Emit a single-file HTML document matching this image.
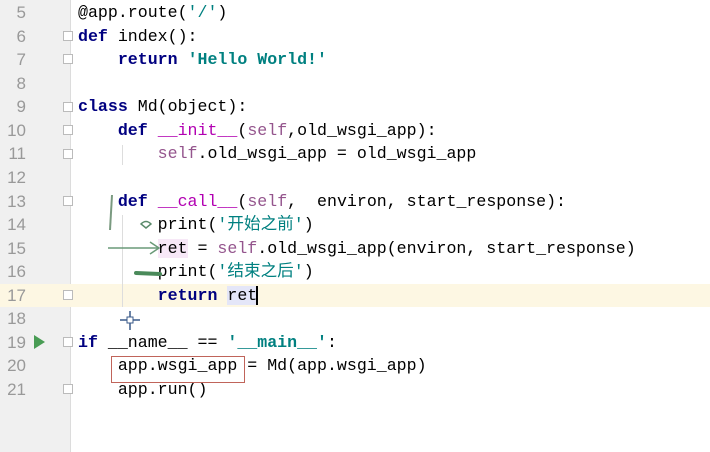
<!DOCTYPE html>
<html><head><meta charset="utf-8"><style>
html,body{margin:0;padding:0}
body{width:710px;height:452px;overflow:hidden;background:#fff;position:relative;font-family:"Liberation Mono","Noto Sans CJK SC",monospace;font-size:16.6px}
.gut{position:absolute;left:0;top:0;width:70px;height:452px;background:#f0f0f0;border-right:1px solid #dcdcdc}
.hl{position:absolute;left:0;top:284px;width:710px;height:23px;background:#fdf7e3}
.n{position:absolute;left:0;width:26px;text-align:right;color:#999;font-family:"Liberation Sans",sans-serif;font-size:17px;line-height:23.56px}
.l{position:absolute;left:78px;white-space:pre;line-height:23.56px;color:#000}
.k{color:#000080;font-weight:bold}
.s{color:#008080;font-weight:bold}
.c{color:#008080}
.sf{color:#94558d}
.m{color:#b200b2}
.fold{position:absolute;left:63px;width:10px;height:10px;border:1px solid #bbb;background:#fff;box-sizing:border-box}
</style></head><body>
<div class="gut"></div>
<div class="hl"></div>
<div class="n" style="top:1px">5</div>
<div class="n" style="top:24.6px">6</div>
<div class="n" style="top:48.1px">7</div>
<div class="n" style="top:71.7px">8</div>
<div class="n" style="top:95.2px">9</div>
<div class="n" style="top:118.8px">10</div>
<div class="n" style="top:142.4px">11</div>
<div class="n" style="top:165.9px">12</div>
<div class="n" style="top:189.5px">13</div>
<div class="n" style="top:213px">14</div>
<div class="n" style="top:236.6px">15</div>
<div class="n" style="top:260.2px">16</div>
<div class="n" style="top:283.7px">17</div>
<div class="n" style="top:307.3px">18</div>
<div class="n" style="top:330.8px">19</div>
<div class="n" style="top:354.4px">20</div>
<div class="n" style="top:378px">21</div>
<div class="fold" style="top:31px"></div><div class="fold" style="top:54px"></div>
<div class="fold" style="top:102px"></div><div class="fold" style="top:125px"></div><div class="fold" style="top:149px"></div>
<div class="fold" style="top:196px"></div><div class="fold" style="top:290px"></div>
<div class="fold" style="top:337px"></div><div class="fold" style="top:384px"></div>
<svg style="position:absolute;left:34px;top:335px" width="12" height="14"><polygon points="0,0 11,7 0,14" fill="#499c54"/></svg>
<div style="position:absolute;left:122px;top:145px;width:1px;height:20px;background:#ddd"></div>
<div style="position:absolute;left:122px;top:215px;width:1px;height:92px;background:#ddd"></div>
<div class="l" style="top:1px">@app.route(<span class="c">'/'</span>)</div>
<div class="l" style="top:24.6px"><span class="k">def</span> index():</div>
<div class="l" style="top:48.1px">    <span class="k">return</span> <span class="s">'Hello World!'</span></div>
<div class="l" style="top:95.2px"><span class="k">class</span> Md(object):</div>
<div class="l" style="top:118.8px">    <span class="k">def</span> <span class="m">__init__</span>(<span class="sf">self</span>,old_wsgi_app):</div>
<div class="l" style="top:142.4px">        <span class="sf">self</span>.old_wsgi_app = old_wsgi_app</div>
<div class="l" style="top:189.5px">    <span class="k">def</span> <span class="m">__call__</span>(<span class="sf">self</span>,  environ, start_response):</div>
<div class="l" style="top:213px">        print(<span class="c">'开始之前'</span>)</div>
<div class="l" style="top:236.6px">        <span style="background:#f7e8f7">ret</span> = <span class="sf">self</span>.old_wsgi_app(environ, start_response)</div>
<div class="l" style="top:260.2px">        print(<span class="c">'结束之后'</span>)</div>
<div class="l" style="top:283.7px">        <span class="k">return</span> <span style="background:#e4e6f8">ret</span><span style="border-left:2px solid #000;margin-left:-1px"></span></div>
<div class="l" style="top:330.8px"><span class="k">if</span> __name__ == <span class="s">'__main__'</span>:</div>
<div class="l" style="top:354.4px">    app.wsgi_app = Md(app.wsgi_app)</div>
<div class="l" style="top:378px">    app.run()</div>
<div style="position:absolute;left:111px;top:356px;width:134px;height:27px;border:1.5px solid #c0645a;box-sizing:border-box"></div>
<svg style="position:absolute;left:0;top:0" width="710" height="452">
<path d="M112 195 L110 230" stroke="#7a9a80" stroke-width="2" fill="none"/>
<path d="M141 224 q5 -5 10 0 l-5 4z" stroke="#5a8a6a" stroke-width="1.5" fill="none"/>
<path d="M108 248 L158 248 M150 242 L159 248 L150 254" stroke="#6a9a78" stroke-width="1.5" fill="none"/>
<path d="M136 273 L160 274" stroke="#4a8a5a" stroke-width="4" fill="none" stroke-linecap="round"/>
<path d="M120 320 L140 320 M130 311 L130 330" stroke="#3a5a8a" stroke-width="1.5"/>
<rect x="127" y="317" width="6" height="6" fill="#fff" stroke="#3a5a8a"/>
</svg>
</body></html>
